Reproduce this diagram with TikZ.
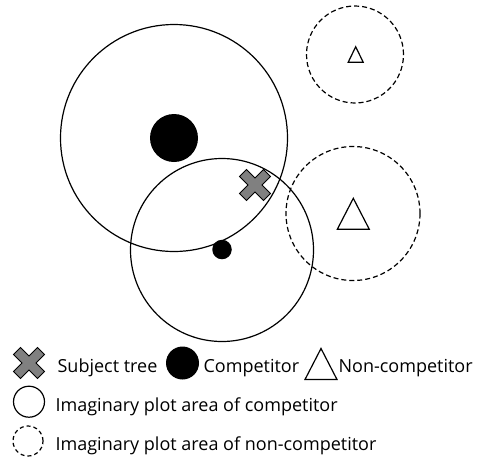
\documentclass[tikz,border=0pt]{standalone}
\usepackage{fontspec}
\setmainfont{Open Sans}
\usetikzlibrary{positioning}

\begin{document}
\begin{tikzpicture}[x=1pt,y=-1pt,line width=1.2pt]
    \tikzstyle{plot}=[draw,circle,inner sep=0pt]
    \tikzstyle{nonplot}=[draw,circle,inner sep=0pt,dash pattern=on 5pt off 3pt]
    \tikzstyle{comp}=[fill=black,circle,inner sep=0pt]
    \tikzstyle{lbl}=[font=\fontsize{18}{21}\selectfont,inner sep=0pt,anchor=base west]
    \tikzset{
        subject/.pic={
            \draw[fill=gray,line width=0.9pt,rotate=45] (-5,-17) -- (5,-17) -- (5,-5) -- (17,-5)
                -- (17,5) -- (5,5) -- (5,17) -- (-5,17) -- (-5,5) -- (-17,5) -- (-17,-5) -- (-5,-5) -- cycle;
        },
        noncomp/.pic={
            \draw (-0.5,0.5) -- (0.5,0.5) -- (0,-0.5) -- cycle;
        }
    }
    \useasboundingbox (0,0) rectangle (482,459);
    % plot areas
    \node[plot,minimum size=227pt] (big plot) at (174,138) {};
    \node[plot,minimum size=183pt] (small plot) at (222,250) {};
    \node[nonplot,minimum size=97pt] (top plot) at (355,54.5) {};
    \node[nonplot,minimum size=134pt] (right plot) at (353,213.5) {};
    % trees
    \node[comp,minimum size=48pt] (big comp) at (174,138) {};
    \node[comp,minimum size=19.5pt] (small comp) at (222,249.5) {};
    \pic at (255,185) {subject};
    \pic[xscale=15,yscale=15.5] at (355.7,54.5) {noncomp};
    \pic[xscale=32,yscale=31] at (353.3,213.8) {noncomp};
    % legend
    \pic at (29,363) {subject};
    \node[lbl] (subject text) at (57,372) {Subject tree};
    \node[comp,minimum size=33pt] (comp key) at (182.5,363) {};
    \node[lbl] (comp text) at (203,372) {Competitor};
    \pic[xscale=32,yscale=31] at (321,364) {noncomp};
    \node[lbl] (noncomp text) at (338,372) {Non-competitor};
    \node[plot,minimum size=31pt] (plot key) at (29,401.7) {};
    \node[lbl] (plot text) at (55,411.7) {Imaginary plot area of competitor};
    \node[nonplot,minimum size=30pt,dash pattern=on 4pt off 3pt] (nonplot key) at (28,441) {};
    \node[lbl] (nonplot text) at (55,450) {Imaginary plot area of non-competitor};
\end{tikzpicture}
\end{document}
